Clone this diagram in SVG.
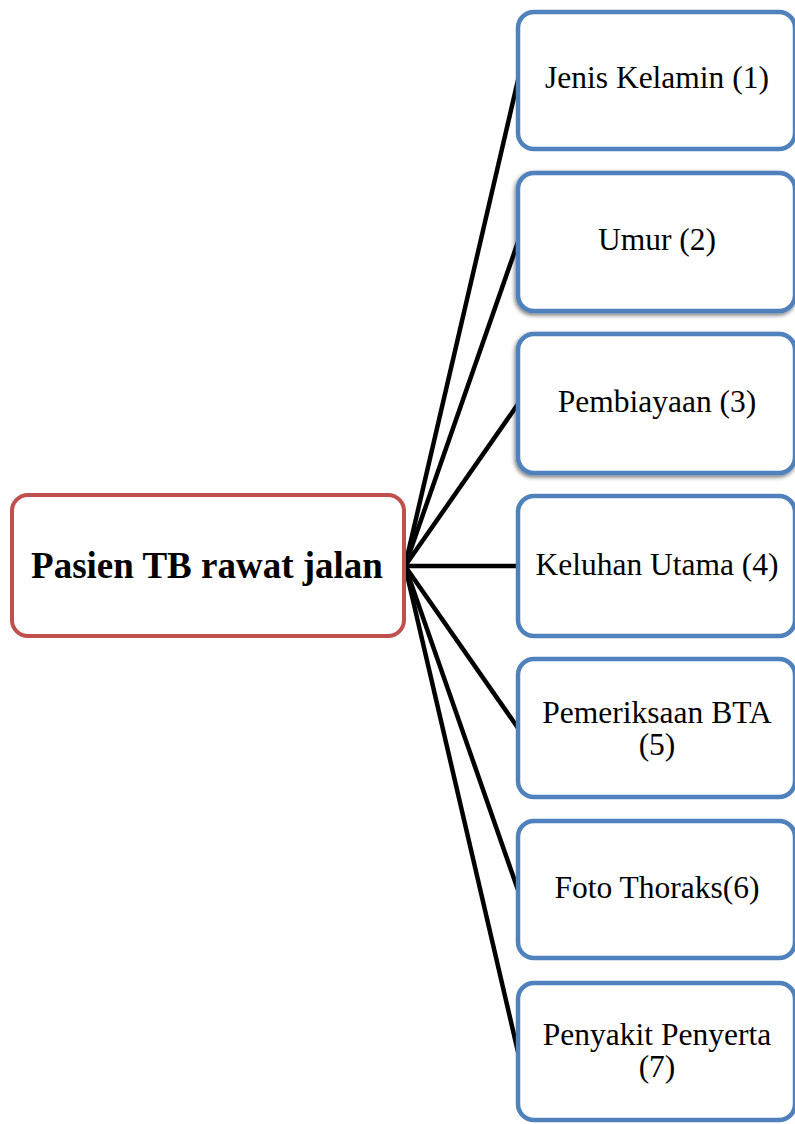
<svg xmlns="http://www.w3.org/2000/svg" width="795" height="1124" viewBox="0 0 795 1124">
<defs>
<style>
.main{fill:#fff;stroke:#c0504d;stroke-width:4}
.box{fill:#fff;stroke:#4f81bd;stroke-width:4.5}
.lbl{font-family:"Liberation Serif","Times New Roman",serif;font-size:31.5px;fill:#000;text-anchor:middle}
.title{font-family:"Liberation Serif","Times New Roman",serif;font-size:37px;font-weight:bold;fill:#000;text-anchor:middle}
.conn line{stroke:#000;stroke-width:4.5}
</style>
<filter id="sh" x="-10%" y="-10%" width="120%" height="130%">
<feDropShadow dx="-1" dy="2" stdDeviation="2" flood-color="#000" flood-opacity="0.55"/>
</filter>
</defs>
<rect width="795" height="1124" fill="#fff"/>
<g class="conn" id="connectors">
<line x1="405" y1="566" x2="518" y2="80"/>
<line x1="405" y1="566" x2="518" y2="242"/>
<line x1="405" y1="566" x2="518" y2="404"/>
<line x1="405" y1="566" x2="518" y2="566"/>
<line x1="405" y1="566" x2="518" y2="728"/>
<line x1="405" y1="566" x2="518" y2="890"/>
<line x1="405" y1="566" x2="518" y2="1052"/>
</g>
<g id="root">
<rect class="main" x="12" y="495" width="392" height="141" rx="16"/>
<text class="title" x="207" y="578">Pasien TB rawat jalan</text>
</g>
<g id="n1">
<rect class="box" x="518" y="12" width="277" height="137" rx="16"/>
<text class="lbl" x="657" y="88">Jenis Kelamin (1)</text>
</g>
<g id="n2">
<rect class="box" x="518" y="173" width="277" height="138" rx="16" filter="url(#sh)"/>
<text class="lbl" x="657" y="250">Umur (2)</text>
</g>
<g id="n3">
<rect class="box" x="518" y="334" width="277" height="139" rx="16" filter="url(#sh)"/>
<text class="lbl" x="657" y="412">Pembiayaan (3)</text>
</g>
<g id="n4">
<rect class="box" x="518" y="496" width="277" height="140" rx="16"/>
<text class="lbl" x="657" y="575">Keluhan Utama (4)</text>
</g>
<g id="n5">
<rect class="box" x="518" y="659" width="277" height="138" rx="16"/>
<text class="lbl" x="657" y="723">Pemeriksaan BTA</text>
<text class="lbl" x="657" y="755">(5)</text>
</g>
<g id="n6">
<rect class="box" x="518" y="821" width="277" height="137" rx="16"/>
<text class="lbl" x="657" y="898">Foto Thoraks(6)</text>
</g>
<g id="n7">
<rect class="box" x="518" y="983" width="277" height="137" rx="16"/>
<text class="lbl" x="657" y="1045">Penyakit Penyerta</text>
<text class="lbl" x="657" y="1077">(7)</text>
</g>
</svg>
